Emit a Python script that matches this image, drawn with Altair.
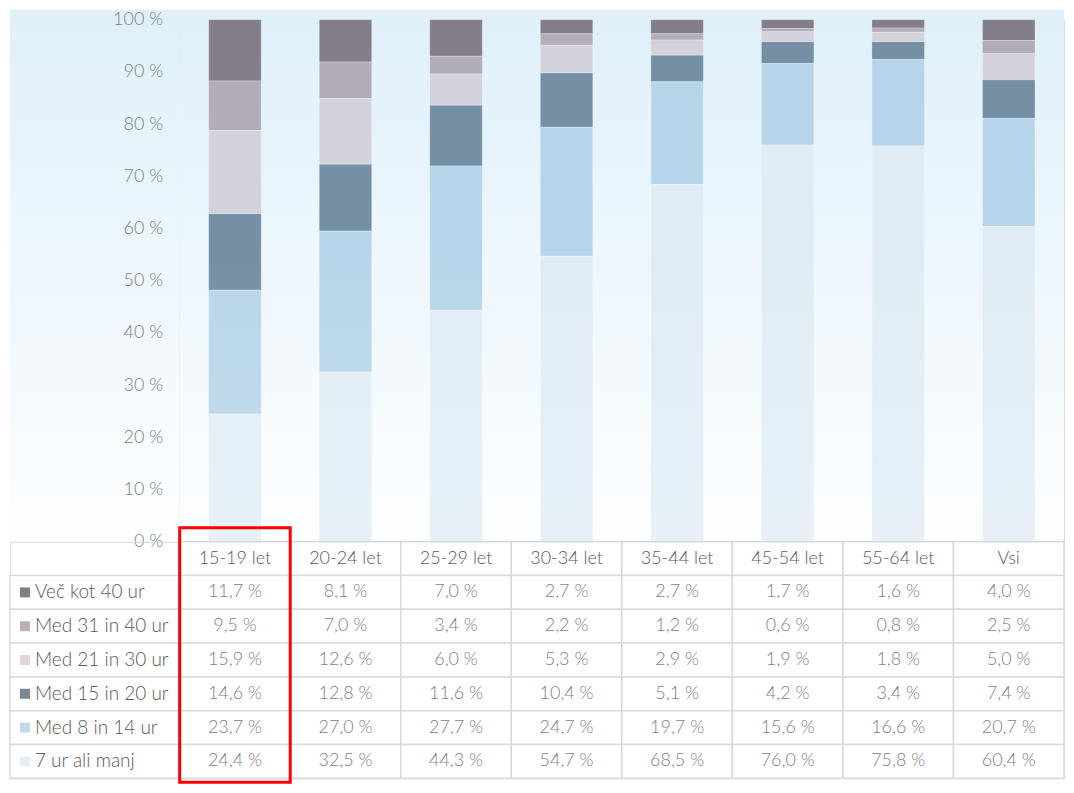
import altair as alt
import pandas as pd

# ---------------- data ----------------
cats = ["15-19 let", "20-24 let", "25-29 let", "30-34 let",
        "35-44 let", "45-54 let", "55-64 let", "Vsi"]
series = ["Več kot 40 ur", "Med 31 in 40 ur", "Med 21 in 30 ur",
          "Med 15 in 20 ur", "Med 8 in 14 ur", "7 ur ali manj"]

vec40 = [11.7, 8.1, 7.0, 2.7, 2.7, 1.7, 1.6, 4.0]
med31_40 = [9.5, 7.0, 3.4, 2.2, 1.2, 0.6, 0.8, 2.5]
med21_30 = [15.9, 12.6, 6.0, 5.3, 2.9, 1.9, 1.8, 5.0]
med15_20 = [14.6, 12.8, 11.6, 10.4, 5.1, 4.2, 3.4, 7.4]
med8_14 = [23.7, 27.0, 27.7, 24.7, 19.7, 15.6, 16.6, 20.7]
ur7 = [24.4, 32.5, 44.3, 54.7, 68.5, 76.0, 75.8, 60.4]

y_ticks = [0, 0.1, 0.2, 0.3, 0.4, 0.5, 0.6, 0.7, 0.8, 0.9, 1.0]
highlight = ["15-19 let"]

bar_colors = ["#837e89", "#b2adb8", "#d3d2da", "#758fa4", "#b7d5ea", "#e0ecf5"]
legend_colors = ["#857d85", "#bcb0b6", "#e2d8db", "#7a8797", "#c2d9eb", "#e6eef6"]

FONT = "Lato"

# ---------------- tables ----------------
values = [vec40, med31_40, med21_30, med15_20, med8_14, ur7]


def fmt(v):
    return f"{v:.1f}".replace(".", ",") + " %"


records = []
for i, s in enumerate(series):
    for j, c in enumerate(cats):
        records.append({"cat": c, "row": s, "value": values[i][j],
                        "ord": len(series) - 1 - i, "label": fmt(values[i][j])})
df = pd.DataFrame(records)
rows = ["header"] + series
hdr = pd.DataFrame({"cat": cats, "row": ["header"] * len(cats)})
cells_df = pd.DataFrame([{"cat": c, "row": r} for r in rows for c in cats])
leg_df = pd.DataFrame({"row": series})
one = pd.DataFrame({"k": [0]})

bg_grad = alt.Gradient(
    gradient="linear",
    stops=[alt.GradientStop(color="#dff0fa", offset=0),
           alt.GradientStop(color="#eef7fd", offset=0.5),
           alt.GradientStop(color="#fdfeff", offset=1)],
    x1=0, x2=0, y1=0, y2=1)
fade_grad = alt.Gradient(
    gradient="linear",
    stops=[alt.GradientStop(color="rgba(255,255,255,0)", offset=0),
           alt.GradientStop(color="rgba(255,255,255,0)", offset=0.45),
           alt.GradientStop(color="rgba(255,255,255,0.25)", offset=1)],
    x1=0, x2=0, y1=0, y2=1)

PLOT_W, PLOT_H = 886, 523
LEG_W, TAB_H = 170, 237

x_scale = alt.Scale(domain=cats, paddingInner=0, paddingOuter=0)
X = alt.X("cat:N", scale=x_scale, axis=None)
Y_row = alt.Y("row:N", scale=alt.Scale(domain=rows, paddingInner=0, paddingOuter=0), axis=None)

# ---------------- top: bars ----------------
bg = alt.Chart(one).mark_rect(fill=bg_grad).encode(
    x=alt.value(0), x2=alt.value(PLOT_W), y=alt.value(-10), y2=alt.value(PLOT_H))

bars = alt.Chart(df).mark_bar(
    width=alt.RelativeBandSize(0.475), stroke="#ffffff", strokeOpacity=0.35, strokeWidth=0.8
).encode(
    x=X,
    y=alt.Y("value:Q", stack="normalize",
            scale=alt.Scale(domain=[0, 1], nice=False),
            axis=alt.Axis(values=y_ticks, labelExpr="round(datum.value*100) + ' %'",
                          domain=False, ticks=False, grid=False, labelPadding=17,
                          labelFont=FONT, labelFontSize=18, labelColor="#7f7f7f",
                          labelFontWeight=300, title=None)),
    color=alt.Color("row:N", scale=alt.Scale(domain=series, range=bar_colors), legend=None),
    order=alt.Order("ord:Q", sort="ascending"),
)

fade = alt.Chart(pd.DataFrame({"cat": cats})).mark_bar(
    width=alt.RelativeBandSize(0.475), fill=fade_grad
).encode(x=X, y=alt.datum(0), y2=alt.datum(1))

top = alt.layer(bg, bars, fade).properties(width=PLOT_W, height=PLOT_H)

spacer = alt.Chart(one).mark_rect(fill=bg_grad).encode(
    x=alt.value(0), x2=alt.value(LEG_W), y=alt.value(-10), y2=alt.value(PLOT_H)
).properties(width=LEG_W, height=PLOT_H)

# ---------------- bottom: data table ----------------
cells = alt.Chart(cells_df).mark_rect(fill="white", stroke="#d9d9d9", strokeWidth=1.5).encode(
    x=X, y=Y_row)
hdr_text = alt.Chart(hdr).mark_text(font=FONT, fontSize=18, fontWeight=300, color="#595959").encode(
    x=X, y=Y_row, text="cat:N")
val_text = alt.Chart(df).mark_text(font=FONT, fontSize=18, fontWeight=300, color="#7f7f7f").encode(
    x=X, y=Y_row, text="label:N")
red = alt.Chart(pd.DataFrame({"cat": highlight})).mark_rect(
    fillOpacity=0, stroke="#ff0000", strokeWidth=3
).encode(x=X, y=alt.value(-14), y2=alt.value(241))
table = alt.layer(cells, hdr_text, val_text, red).properties(width=PLOT_W, height=TAB_H)

leg_cells = alt.Chart(leg_df).mark_rect(fill="white", stroke="#d9d9d9", strokeWidth=1.5).encode(
    x=alt.value(0), x2=alt.value(LEG_W), y=Y_row)
leg_sq = alt.Chart(leg_df).mark_square(size=100, opacity=1, filled=True).encode(
    x=alt.value(15), y=Y_row,
    color=alt.Color("row:N", scale=alt.Scale(domain=series, range=legend_colors), legend=None))
leg_text = alt.Chart(leg_df).mark_text(align="left", font=FONT, fontSize=19, fontWeight=300,
                                       color="#595959").encode(
    x=alt.value(25), y=Y_row, text="row:N")
legend = alt.layer(leg_cells, leg_sq, leg_text).properties(width=LEG_W, height=TAB_H)

chart = alt.concat(spacer, top, legend, table, columns=2, spacing=0, bounds="flush").resolve_scale(
    x="independent", y="independent", color="independent"
).properties(
    padding={"left": 0, "top": 0, "right": 0, "bottom": 0}
).configure_view(stroke=None).configure(background="white")

chart.save("out.html", embed_options={"renderer": "svg", "actions": False})
